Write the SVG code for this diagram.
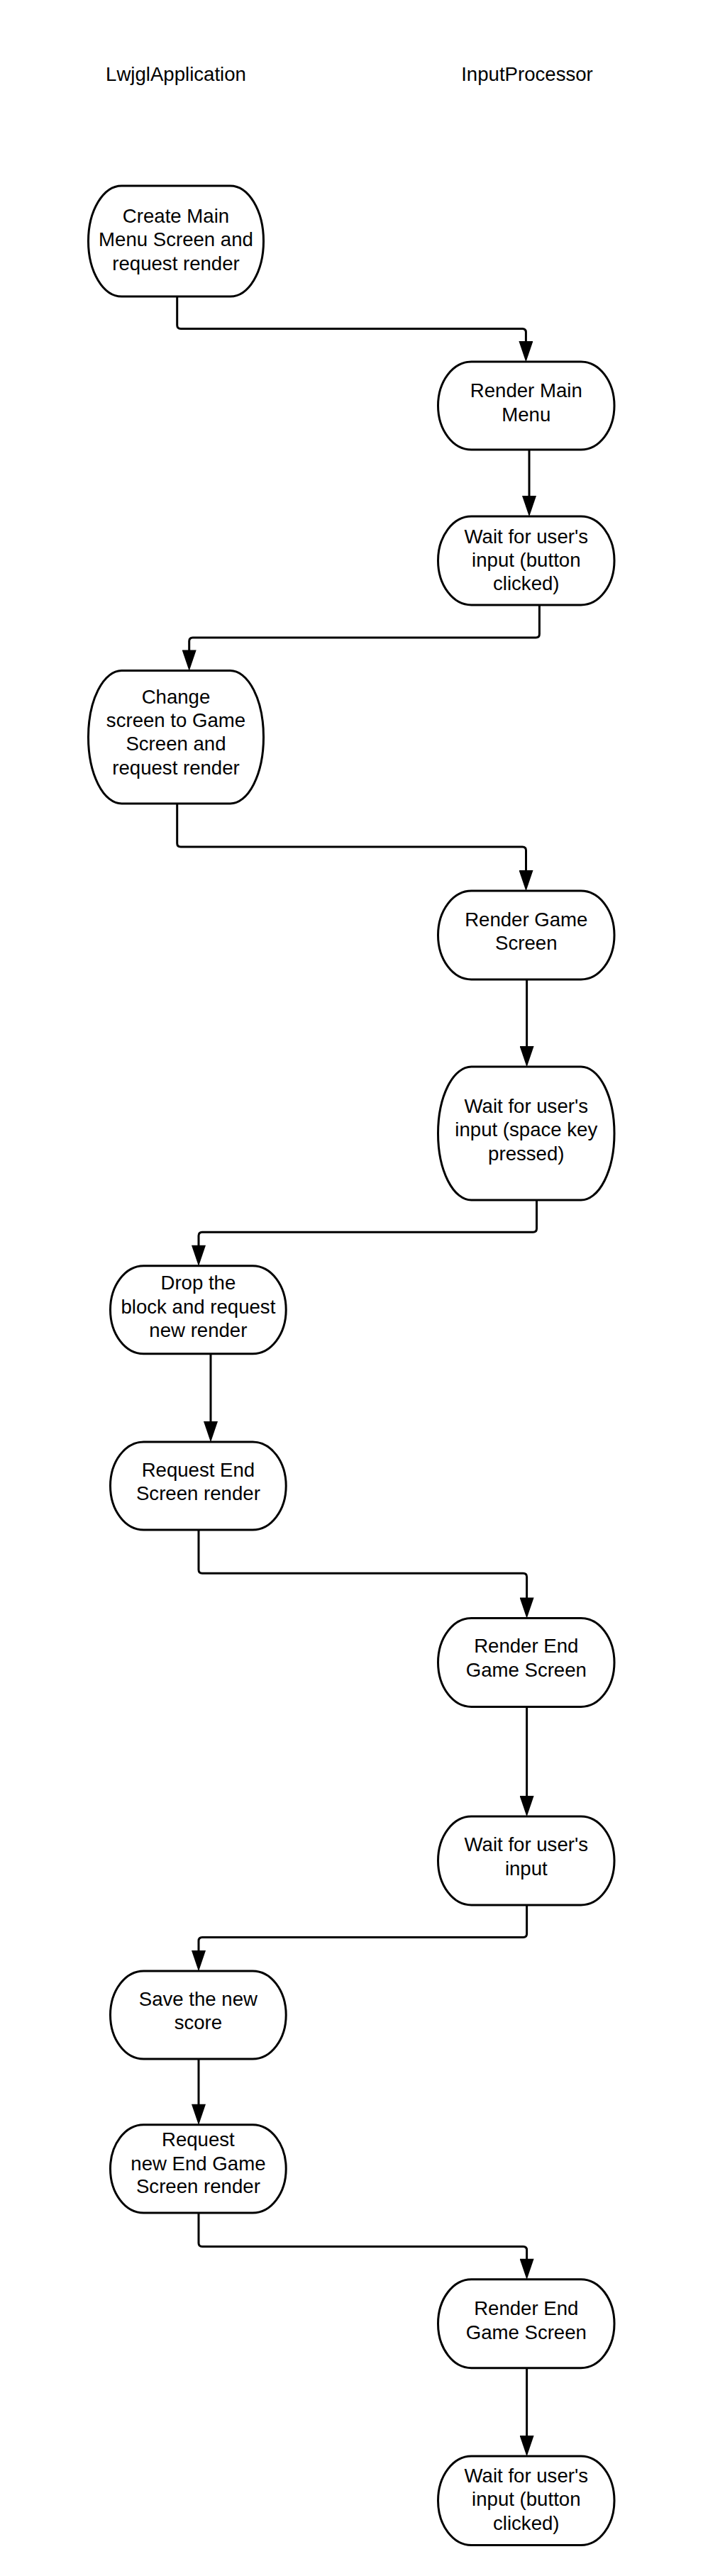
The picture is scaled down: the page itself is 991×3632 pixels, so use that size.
<svg xmlns="http://www.w3.org/2000/svg" width="991" height="3632" viewBox="0 0 991 3632">
<style>
.n{fill:#fff;stroke:#000;stroke-width:3}
.t{font-family:"Liberation Sans",Arial,sans-serif;font-size:27.6px;fill:#000;text-anchor:middle}
.c{fill:none;stroke:#000;stroke-width:3;marker-end:url(#ah)}
</style>
<defs>
<marker id="ah" markerUnits="userSpaceOnUse" markerWidth="30" markerHeight="20" viewBox="0 0 28 19" refX="18" refY="9.5" orient="auto">
<path d="M0,0 L28,9.5 L0,19 Z" fill="#000"/>
</marker>
</defs>
<rect width="991" height="3632" fill="#fff"/>
<g id="headers">
<text class="t" x="248" y="114">LwjglApplication</text>
<text class="t" x="743" y="114">InputProcessor</text>
</g>
<g id="connectors">
<path class="c" d="M249.7,418 V458.5 Q249.7,463.5 254.7,463.5 H736.4 Q741.4,463.5 741.4,468.5 V500"/>
<path class="c" d="M746,634 V718"/>
<path class="c" d="M760.4,853 V894 Q760.4,899 755.4,899 H271.7 Q266.7,899 266.7,904 V935.5"/>
<path class="c" d="M249.7,1133 V1189 Q249.7,1194 254.7,1194 H736.5 Q741.5,1194 741.5,1199 V1246"/>
<path class="c" d="M742.6,1381 V1494"/>
<path class="c" d="M756.5,1692 V1732.3 Q756.5,1737.3 751.5,1737.3 H285 Q280,1737.3 280,1742.3 V1774.7"/>
<path class="c" d="M297,1908.6 V2023"/>
<path class="c" d="M280,2157 V2213.3 Q280,2218.3 285,2218.3 H737.6 Q742.6,2218.3 742.6,2223.3 V2271.5"/>
<path class="c" d="M742.6,2406 V2551"/>
<path class="c" d="M742.6,2686 V2726.5 Q742.6,2731.5 737.6,2731.5 H285 Q280,2731.5 280,2736.5 V2769"/>
<path class="c" d="M280,2903 V2985.7"/>
<path class="c" d="M280,3120 V3162.6 Q280,3167.6 285,3167.6 H737.6 Q742.6,3167.6 742.6,3172.6 V3203.7"/>
<path class="c" d="M742.6,3338.7 V3453"/>
</g>
<g id="n1">
<rect class="n" x="124.5" y="262" width="247" height="156" rx="47" ry="78"/>
<text class="t" x="248" y="313.8">Create Main</text>
<text class="t" x="248" y="347.4">Menu Screen and</text>
<text class="t" x="248" y="380.5">request render</text>
</g>
<g id="n2">
<rect class="n" x="617.5" y="510" width="248.5" height="124" rx="47" ry="62"/>
<text class="t" x="741.8" y="560.4">Render Main</text>
<text class="t" x="741.8" y="593.6">Menu</text>
</g>
<g id="n3">
<rect class="n" x="617.5" y="728" width="248.5" height="125" rx="47" ry="62.5"/>
<text class="t" x="741.8" y="766">Wait for user's</text>
<text class="t" x="741.8" y="799">input (button</text>
<text class="t" x="741.8" y="832.4">clicked)</text>
</g>
<g id="n4">
<rect class="n" x="124.5" y="945.5" width="247" height="187.5" rx="47" ry="93.7"/>
<text class="t" x="248" y="992">Change</text>
<text class="t" x="248" y="1025">screen to Game</text>
<text class="t" x="248" y="1058">Screen and</text>
<text class="t" x="248" y="1091.5">request render</text>
</g>
<g id="n5">
<rect class="n" x="617.5" y="1256" width="248.5" height="125" rx="47" ry="62.5"/>
<text class="t" x="741.8" y="1305.6">Render Game</text>
<text class="t" x="741.8" y="1339">Screen</text>
</g>
<g id="n6">
<rect class="n" x="617.5" y="1504" width="248.5" height="188" rx="47" ry="94"/>
<text class="t" x="741.8" y="1568.6">Wait for user's</text>
<text class="t" x="741.8" y="1602">input (space key</text>
<text class="t" x="741.8" y="1635.6">pressed)</text>
</g>
<g id="n7">
<rect class="n" x="155.5" y="1784.7" width="247.7" height="124" rx="47" ry="62"/>
<text class="t" x="279.4" y="1818">Drop the</text>
<text class="t" x="279.4" y="1851.7">block and request</text>
<text class="t" x="279.4" y="1885">new render</text>
</g>
<g id="n8">
<rect class="n" x="155.5" y="2033" width="247.7" height="124" rx="47" ry="62"/>
<text class="t" x="279.4" y="2082.4">Request End</text>
<text class="t" x="279.4" y="2115.3">Screen render</text>
</g>
<g id="n9">
<rect class="n" x="617.5" y="2281.5" width="248.5" height="125" rx="47" ry="62.5"/>
<text class="t" x="741.8" y="2330">Render End</text>
<text class="t" x="741.8" y="2363.7">Game Screen</text>
</g>
<g id="n10">
<rect class="n" x="617.5" y="2561" width="248.5" height="125" rx="47" ry="62.5"/>
<text class="t" x="741.8" y="2610">Wait for user's</text>
<text class="t" x="741.8" y="2643.7">input</text>
</g>
<g id="n11">
<rect class="n" x="155.5" y="2779" width="247.7" height="124" rx="47" ry="62"/>
<text class="t" x="279.4" y="2828">Save the new</text>
<text class="t" x="279.4" y="2861">score</text>
</g>
<g id="n12">
<rect class="n" x="155.5" y="2995.7" width="247.7" height="124.3" rx="47" ry="62"/>
<text class="t" x="279.4" y="3026">Request</text>
<text class="t" x="279.4" y="3059.5">new End Game</text>
<text class="t" x="279.4" y="3092.4">Screen render</text>
</g>
<g id="n13">
<rect class="n" x="617.5" y="3213.7" width="248.5" height="125" rx="47" ry="62.5"/>
<text class="t" x="741.8" y="3264">Render End</text>
<text class="t" x="741.8" y="3297.5">Game Screen</text>
</g>
<g id="n14">
<rect class="n" x="617.5" y="3463" width="248.5" height="125.5" rx="47" ry="62.7"/>
<text class="t" x="741.8" y="3500">Wait for user's</text>
<text class="t" x="741.8" y="3533">input (button</text>
<text class="t" x="741.8" y="3567">clicked)</text>
</g>
</svg>
